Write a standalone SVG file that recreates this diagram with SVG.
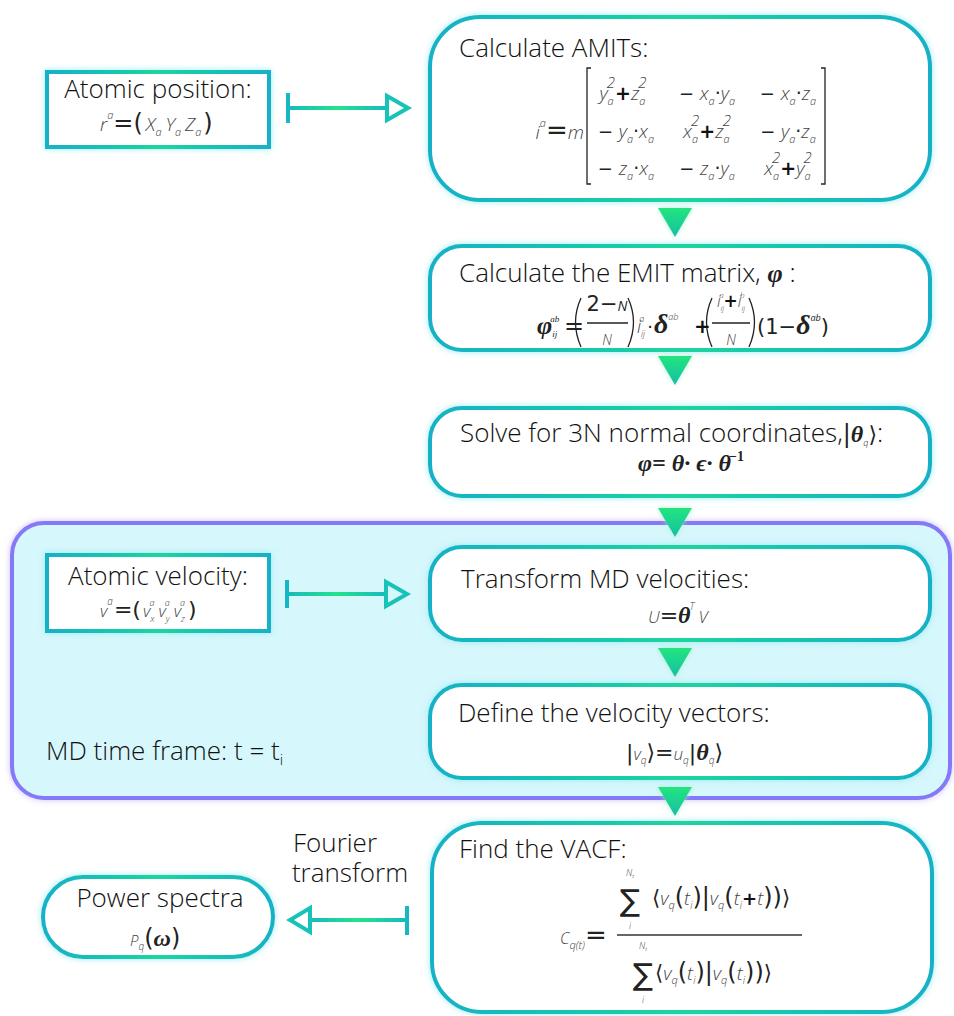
<svg xmlns="http://www.w3.org/2000/svg" width="954" height="1016" viewBox="0 0 954 1016">
<defs>
<style>
.h{font-family:"Open Sans","Noto Sans",sans-serif;font-size:26px;fill:#111;font-weight:300}
.m{font-family:"Open Sans","Noto Sans",sans-serif;font-style:italic;fill:#444;font-weight:300}
.g{font-family:"Liberation Serif","DejaVu Serif",serif;font-style:italic;font-weight:bold;fill:#222}
.op{font-family:"DejaVu Sans",sans-serif;font-style:normal;font-weight:normal;fill:#222}
.pl{font-family:"DejaVu Sans",sans-serif;font-style:normal;font-weight:bold;fill:#111}
.box{fill:#fff;stroke:url(#strk);stroke-width:4;filter:url(#glow)}
.shaft{fill:url(#lg)}
.bar{stroke:#17b6c4;stroke-width:4;fill:none}
.hd{fill:none;stroke:#17c2b6;stroke-width:4;stroke-linejoin:miter}
.tri{fill:url(#tg);filter:url(#glow2)}
.br{fill:none;stroke:#222;stroke-width:1.3}
</style>
<linearGradient id="strk" x1="0" y1="0" x2="1" y2="0">
<stop offset="0" stop-color="#13b1c7"/><stop offset="0.5" stop-color="#1bd59e"/><stop offset="1" stop-color="#13b1c7"/>
</linearGradient>
<linearGradient id="lg" x1="0" y1="0" x2="1" y2="0">
<stop offset="0" stop-color="#18b9be"/><stop offset="0.5" stop-color="#22e38c"/><stop offset="1" stop-color="#18b9be"/>
</linearGradient>
<linearGradient id="tg" x1="0" y1="0" x2="0" y2="1">
<stop offset="0" stop-color="#22e57e"/><stop offset="1" stop-color="#15bfa5"/>
</linearGradient>
<filter id="glow" x="-10%" y="-10%" width="120%" height="120%">
<feGaussianBlur in="SourceAlpha" stdDeviation="3" result="b"/>
<feFlood flood-color="#8fe9f2" flood-opacity="0.9"/>
<feComposite in2="b" operator="in" result="g"/>
<feMerge><feMergeNode in="g"/><feMergeNode in="SourceGraphic"/></feMerge>
</filter>
<filter id="glow2" x="-30%" y="-30%" width="160%" height="160%">
<feGaussianBlur in="SourceAlpha" stdDeviation="2.5" result="b"/>
<feFlood flood-color="#9af0c8" flood-opacity="0.8"/>
<feComposite in2="b" operator="in" result="g"/>
<feMerge><feMergeNode in="g"/><feMergeNode in="SourceGraphic"/></feMerge>
</filter>
<filter id="glowp" x="-5%" y="-5%" width="110%" height="110%">
<feGaussianBlur in="SourceAlpha" stdDeviation="3" result="b"/>
<feFlood flood-color="#c7b8ff" flood-opacity="0.9"/>
<feComposite in2="b" operator="in" result="g"/>
<feMerge><feMergeNode in="g"/><feMergeNode in="SourceGraphic"/></feMerge>
</filter>
</defs>
<rect width="954" height="1016" fill="#fff"/>

<g id="md-frame">
<rect x="12" y="523" width="938" height="275" rx="32" fill="#d6f7fc" stroke="#8479f6" stroke-width="4" filter="url(#glowp)"/>
<text class="h" x="46" y="760">MD time frame: t = t<tspan font-size="15" dy="5">i</tspan></text>
</g>

<g id="atomic-position">
<rect class="box" x="47" y="72" width="222" height="75"/>
<text class="h" x="158" y="98" text-anchor="middle">Atomic position:</text>
<text class="m" x="100" y="131" font-size="19">r<tspan font-size="11" dy="-12">a</tspan><tspan class="op" font-size="24" dy="12">=(</tspan><tspan dx="3">X</tspan><tspan font-size="11" dy="5">a</tspan><tspan dx="4" dy="-5">Y</tspan><tspan font-size="11" dy="5">a</tspan><tspan dx="4" dy="-5">Z</tspan><tspan font-size="11" dy="5">a</tspan><tspan class="op" font-size="24" dx="2" dy="-5">)</tspan></text>
</g>

<g id="amits">
<rect class="box" x="430" y="17" width="500" height="183" rx="50"/>
<text class="h" x="459" y="57">Calculate AMITs:</text>
<text class="m" x="584" y="139" font-size="19" text-anchor="end">i<tspan font-size="11" dy="-12">a</tspan><tspan class="op" font-size="26" dy="12">=</tspan>m</text>
<path class="br" d="M591,68 h-4 v116 h4 M821,68 h4 v116 h-4" stroke-width="2"/>
<text class="m" x="623" y="100" font-size="19" text-anchor="middle">y<tspan font-size="11" dy="5">a</tspan><tspan font-size="15" dx="-7" dy="-17">2</tspan><tspan class="pl" dy="12">+</tspan>z<tspan font-size="11" dy="5">a</tspan><tspan font-size="15" dx="-7" dy="-17">2</tspan></text>
<text class="m" x="707" y="100" font-size="19" text-anchor="middle"><tspan class="op" font-size="18">− </tspan>x<tspan font-size="11" dy="5">a</tspan><tspan class="op" dy="-5">·</tspan>y<tspan font-size="11" dy="5">a</tspan></text>
<text class="m" x="788" y="100" font-size="19" text-anchor="middle"><tspan class="op" font-size="18">− </tspan>x<tspan font-size="11" dy="5">a</tspan><tspan class="op" dy="-5">·</tspan>z<tspan font-size="11" dy="5">a</tspan></text>
<text class="m" x="626" y="138" font-size="19" text-anchor="middle"><tspan class="op" font-size="18">− </tspan>y<tspan font-size="11" dy="5">a</tspan><tspan class="op" dy="-5">·</tspan>x<tspan font-size="11" dy="5">a</tspan></text>
<text class="m" x="707" y="138" font-size="19" text-anchor="middle">x<tspan font-size="11" dy="5">a</tspan><tspan font-size="15" dx="-7" dy="-17">2</tspan><tspan class="pl" dy="12">+</tspan>z<tspan font-size="11" dy="5">a</tspan><tspan font-size="15" dx="-7" dy="-17">2</tspan></text>
<text class="m" x="788" y="138" font-size="19" text-anchor="middle"><tspan class="op" font-size="18">− </tspan>y<tspan font-size="11" dy="5">a</tspan><tspan class="op" dy="-5">·</tspan>z<tspan font-size="11" dy="5">a</tspan></text>
<text class="m" x="626" y="175" font-size="19" text-anchor="middle"><tspan class="op" font-size="18">− </tspan>z<tspan font-size="11" dy="5">a</tspan><tspan class="op" dy="-5">·</tspan>x<tspan font-size="11" dy="5">a</tspan></text>
<text class="m" x="707" y="175" font-size="19" text-anchor="middle"><tspan class="op" font-size="18">− </tspan>z<tspan font-size="11" dy="5">a</tspan><tspan class="op" dy="-5">·</tspan>y<tspan font-size="11" dy="5">a</tspan></text>
<text class="m" x="788" y="175" font-size="19" text-anchor="middle">x<tspan font-size="11" dy="5">a</tspan><tspan font-size="15" dx="-7" dy="-17">2</tspan><tspan class="pl" dy="12">+</tspan>y<tspan font-size="11" dy="5">a</tspan><tspan font-size="15" dx="-7" dy="-17">2</tspan></text>
</g>

<g id="emit">
<rect class="box" x="430" y="246" width="500" height="104" rx="32"/>
<text class="h" x="459" y="282">Calculate the EMIT matrix, <tspan class="g" font-size="26">φ</tspan> :</text>
<text class="g" x="537" y="334" font-size="26">φ<tspan font-size="9" font-weight="normal" dy="3">ij</tspan><tspan font-size="9" font-weight="normal" dx="-7" dy="-15">ab</tspan></text>
<text class="op" x="564" y="334" font-size="24">=</text>
<path class="br" d="M581,298 Q570,322 581,347 M628,298 Q639,322 628,347 M712,298 Q701,322 712,347 M749,298 Q760,322 749,347"/>
<text class="op" x="607" y="311" font-size="21" text-anchor="middle">2−<tspan font-family="Open Sans" font-style="italic" font-size="14">N</tspan></text>
<line x1="587" y1="323" x2="628" y2="323" stroke="#222" stroke-width="1.3"/>
<text class="m" x="607" y="345" font-size="14" text-anchor="middle">N</text>
<text class="m" x="637" y="333" font-size="18">i<tspan font-size="9" dy="4">ij</tspan><tspan font-size="9" dx="-6" dy="-15">a</tspan><tspan class="op" font-size="18" dx="3" dy="11">·</tspan><tspan class="g" font-size="28" dx="1">δ</tspan><tspan font-size="9" dy="-13">ab</tspan></text>
<text class="pl" x="694" y="333" font-size="20">+</text>
<text class="m" x="731" y="307" font-size="16" text-anchor="middle">i<tspan font-size="8" dy="4">ij</tspan><tspan font-size="8" dx="-5" dy="-13">a</tspan><tspan class="pl" font-size="17" dy="9">+</tspan>i<tspan font-size="8" dy="4">ij</tspan><tspan font-size="8" dx="-5" dy="-13">b</tspan></text>
<line x1="712" y1="323" x2="750" y2="323" stroke="#222" stroke-width="1.3"/>
<text class="m" x="731" y="345" font-size="14" text-anchor="middle">N</text>
<text class="op" x="757" y="334" font-size="21">(1−<tspan class="g" font-size="28">δ</tspan><tspan font-family="Open Sans" font-style="italic" font-size="9" dy="-13">ab</tspan><tspan dy="13">)</tspan></text>
</g>

<g id="normal-coords">
<rect class="box" x="430" y="408" width="500" height="88" rx="32"/>
<text class="h" x="460" y="442">Solve for 3N normal coordinates,<tspan class="op" font-size="24">|</tspan><tspan class="g" font-size="24">θ</tspan><tspan font-family="Open Sans" font-style="italic" font-size="9" dy="4">q</tspan><tspan class="op" font-size="22" dy="-4">⟩</tspan>:</text>
<text class="g" x="638" y="471" font-size="24" font-weight="normal">φ= θ· ϵ· θ<tspan font-size="14" font-style="normal" dx="-2" dy="-10">−1</tspan></text>
</g>

<g id="atomic-velocity">
<rect class="box" x="47" y="555" width="222" height="76"/>
<text class="h" x="158" y="585" text-anchor="middle">Atomic velocity:</text>
<text class="m" x="100" y="617" font-size="17">v<tspan font-size="10" dy="-12">a</tspan><tspan class="op" font-size="22" dx="1" dy="12">=(</tspan><tspan dx="2">v</tspan><tspan font-size="9" dy="5">x</tspan><tspan font-size="9" dx="-5" dy="-16">a</tspan><tspan dx="4" dy="11">v</tspan><tspan font-size="9" dy="5">y</tspan><tspan font-size="9" dx="-5" dy="-16">a</tspan><tspan dx="4" dy="11">v</tspan><tspan font-size="9" dy="5">z</tspan><tspan font-size="9" dx="-5" dy="-16">a</tspan><tspan class="op" font-size="22" dx="3" dy="11">)</tspan></text>
</g>

<g id="transform">
<rect class="box" x="430" y="547" width="500" height="93" rx="32"/>
<text class="h" x="461" y="588">Transform MD velocities:</text>
<text class="m" x="648" y="623" font-size="17">U<tspan class="op" font-size="22">=</tspan><tspan class="g" font-size="24">θ</tspan><tspan font-size="10" dx="-1" dy="-13">T</tspan><tspan dx="4" dy="13">V</tspan></text>
</g>

<g id="velocity-vectors">
<rect class="box" x="430" y="685" width="500" height="93" rx="32"/>
<text class="h" x="458" y="722">Define the velocity vectors:</text>
<text class="m" x="626" y="760" font-size="17"><tspan class="op" font-size="22">|</tspan>v<tspan font-size="10" dy="4">q</tspan><tspan class="op" font-size="22" dy="-4">⟩=</tspan>u<tspan font-size="10" dy="4">q</tspan><tspan class="op" font-size="22" dy="-4">|</tspan><tspan class="g" font-size="24">θ</tspan><tspan font-size="10" dy="4">q</tspan><tspan class="op" font-size="22" dy="-4">⟩</tspan></text>
</g>

<g id="vacf">
<rect class="box" x="432" y="823" width="500" height="189" rx="50"/>
<text class="h" x="459" y="858">Find the VACF:</text>
<text class="m" x="560" y="944" font-size="16">C<tspan font-size="11" dy="5">q(t)</tspan><tspan class="op" font-size="26" dy="-5">=</tspan></text>
<text class="op" x="630" y="911" font-size="30" text-anchor="middle">∑</text>
<text class="m" x="630" y="876" font-size="9" text-anchor="middle">N<tspan font-size="6" dy="2">t</tspan></text>
<text class="m" x="630" y="929" font-size="9" text-anchor="middle">i</text>
<text class="m" x="652" y="905" font-size="19"><tspan class="op" font-size="21">⟨</tspan>v<tspan font-size="11" dy="4">q</tspan><tspan class="op" font-size="24" dy="-4">(</tspan>t<tspan font-size="10" dy="4">i</tspan><tspan class="op" font-size="24" dy="-4">)|</tspan>v<tspan font-size="11" dy="4">q</tspan><tspan class="op" font-size="24" dy="-4">(</tspan>t<tspan font-size="10" dy="4">i</tspan><tspan class="pl" font-size="18" dy="-4">+</tspan>t<tspan class="op" font-size="24">))</tspan><tspan class="op" font-size="21">⟩</tspan></text>
<line x1="617" y1="935" x2="802" y2="935" stroke="#333" stroke-width="1.3"/>
<text class="op" x="643" y="985" font-size="30" text-anchor="middle">∑</text>
<text class="m" x="643" y="949" font-size="9" text-anchor="middle">N<tspan font-size="6" dy="2">t</tspan></text>
<text class="m" x="643" y="1003" font-size="9" text-anchor="middle">i</text>
<text class="m" x="655" y="980" font-size="19"><tspan class="op" font-size="21">⟨</tspan>v<tspan font-size="11" dy="4">q</tspan><tspan class="op" font-size="24" dy="-4">(</tspan>t<tspan font-size="10" dy="4">i</tspan><tspan class="op" font-size="24" dy="-4">)|</tspan>v<tspan font-size="11" dy="4">q</tspan><tspan class="op" font-size="24" dy="-4">(</tspan>t<tspan font-size="10" dy="4">i</tspan><tspan class="op" font-size="24" dy="-4">))</tspan><tspan class="op" font-size="21">⟩</tspan></text>
</g>

<g id="power-spectra">
<rect class="box" x="43" y="877" width="230" height="80" rx="40"/>
<text class="h" x="160" y="907" text-anchor="middle">Power spectra</text>
<text class="m" x="130" y="946" font-size="15">P<tspan font-size="10" dy="4">q</tspan><tspan class="op" font-size="24" dy="-4">(</tspan><tspan class="g" font-size="24">ω</tspan><tspan class="op" font-size="24">)</tspan></text>
</g>

<g id="connectors">
<polygon class="tri" points="658,208 692,208 675,237"/>
<polygon class="tri" points="658,356 692,356 675,385"/>
<polygon class="tri" points="658,508 692,508 675,537"/>
<polygon class="tri" points="658,648 692,648 675,677"/>
<polygon class="tri" points="658,787 692,787 675,816"/>
<line class="bar" x1="288" y1="93" x2="288" y2="123"/>
<rect class="shaft" x="288" y="106" width="99" height="4"/>
<polygon class="hd" points="387,96 387,120 408,108"/>
<line class="bar" x1="287" y1="580" x2="287" y2="608"/>
<rect class="shaft" x="287" y="592" width="99" height="4"/>
<polygon class="hd" points="386,582 386,606 407,594"/>
<line class="bar" x1="407" y1="906" x2="407" y2="935"/>
<rect class="shaft" x="310" y="918" width="97" height="4"/>
<polygon class="hd" points="310,908 310,932 290,920"/>
<text class="h" text-anchor="middle"><tspan x="335" y="852">Fourier</tspan><tspan x="350" y="882">transform</tspan></text>
</g>
</svg>
